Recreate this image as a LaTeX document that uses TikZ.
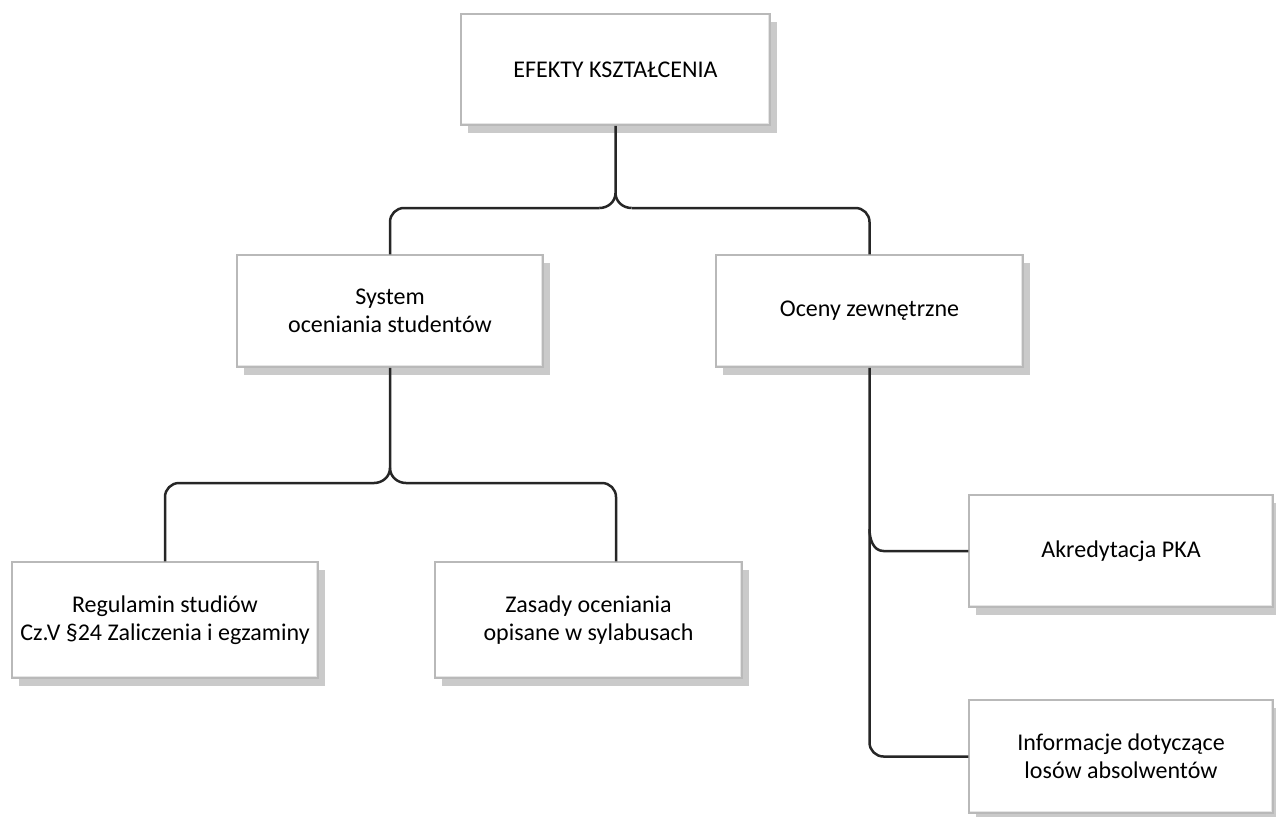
\documentclass[tikz,border=0pt]{standalone}
\usepackage{fontspec}
\setmainfont{Carlito}
\usetikzlibrary{shadows,calc}

\tikzset{
  box/.style={draw=gray!55, line width=1.5pt, fill=white, align=center,
    inner sep=0pt, font=\fontsize{24}{28}\selectfont,
    drop shadow={shadow xshift=7pt, shadow yshift=-8pt, fill=black!35, opacity=0.6},
    path picture={\draw[gray!20, line width=5pt]
      (path picture bounding box.south west) -- (path picture bounding box.south east)
      -- (path picture bounding box.north east);}},
  link/.style={line width=2.5pt, draw=black!85},
  elbow/.style={link, rounded corners=14pt}
}

\begin{document}
\begin{tikzpicture}[x=1pt,y=1pt]
\useasboundingbox (0,0) rectangle (1276,-816);

\node[box, minimum width=309, minimum height=111] (eff) at (615.5,-69.5) {EFEKTY KSZTAŁCENIA};
\node[box, minimum width=306, minimum height=112] (sys) at (390,-311) {System\\oceniania studentów};
\node[box, minimum width=307, minimum height=112] (ext) at (869.5,-311) {Oceny zewnętrzne};
\node[box, minimum width=306, minimum height=116] (reg) at (165,-620) {Regulamin studiów\\Cz.V §24 Zaliczenia i egzaminy};
\node[box, minimum width=307, minimum height=116] (zas) at (588.5,-620) {Zasady oceniania\\opisane w sylabusach};
\node[box, minimum width=304, minimum height=112] (akr) at (1121,-551) {Akredytacja PKA};
\node[box, minimum width=304, minimum height=113] (inf) at (1121,-756.5) {Informacje dotyczące\\losów absolwentów};

% brace points
\coordinate (c1) at (615.5,-208);
\coordinate (c2) at (390,-483);
\coordinate (c3) at (ext.south |- akr.west);

% top level
\draw[link] (eff.south) -- ($(c1)+(0,15)$)
  to[out=-90,in=0] ($(c1)+(-16,0)$);
\draw[link] ($(c1)+(0,15)$) to[out=-90,in=180] ($(c1)+(16,0)$);
\draw[elbow] ($(c1)+(-16,0)$) -| (sys.north);
\draw[elbow] ($(c1)+(16,0)$) -| (ext.north);

% system
\draw[link] (sys.south) -- ($(c2)+(0,15)$)
  to[out=-90,in=0] ($(c2)+(-16,0)$);
\draw[link] ($(c2)+(0,15)$) to[out=-90,in=180] ($(c2)+(16,0)$);
\draw[elbow] ($(c2)+(-16,0)$) -| (reg.north);
\draw[elbow] ($(c2)+(16,0)$) -| ([xshift=27.5pt]zas.north);

% external
\draw[elbow] (ext.south) |- (inf.west);
\draw[link] ($(c3)+(0,22)$) to[out=-90,in=180] ($(c3)+(14,0)$) -- (akr.west);
\end{tikzpicture}
\end{document}
